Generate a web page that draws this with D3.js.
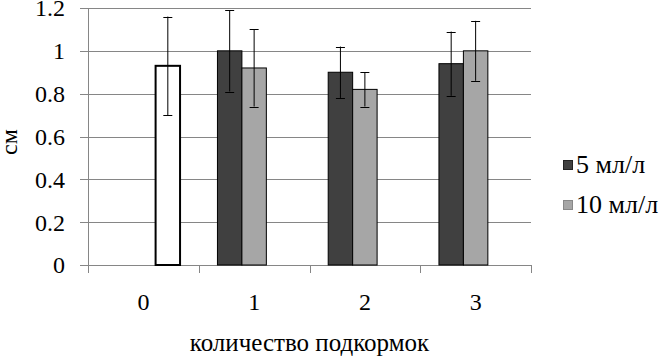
<!DOCTYPE html>
<html><head><meta charset="utf-8">
<script src="https://cdn.jsdelivr.net/npm/d3@7"></script>
<style>body{margin:0;background:#fff}svg{display:block}</style>
</head><body>
<svg id="c" width="663" height="358"></svg>
<script>
const categories = ["0", "1", "2", "3"];
const seriesNames = ["5 мл/л", "10 мл/л", "контроль"];
const values5 = [null, 1.00, 0.90, 0.94];
const values10 = [null, 0.92, 0.82, 1.00];
const valuesCtrl = [0.93, null, null, null];
const err5 = [null, 0.19, 0.12, 0.15];
const err10 = [null, 0.18, 0.08, 0.14];
const errCtrl = [0.23, null, null, null];
const yTicks = [0, 0.2, 0.4, 0.6, 0.8, 1.0, 1.2];
const yTickLabels = ["0", "0.2", "0.4", "0.6", "0.8", "1", "1.2"];
const xTitle = "количество подкормок";
const yTitle = "см";

const svg = d3.select("#c");
const font = "'Liberation Serif','Times New Roman',serif";
const L = 88, R = 531, T = 8, B = 265;
const grid = "#868686";
const fs = 24;

const x = d3.scaleBand().domain(categories).range([L, R]).paddingInner(0).paddingOuter(0);
const xs = d3.scaleBand().domain([0, 1, 2]).range([0, x.bandwidth()]).paddingInner(0).paddingOuter(0.765);
const y = d3.scaleLinear().domain([0, 1.2]).range([B, T]);

// gridlines + y axis
const yAxis = d3.axisLeft(y).tickValues(yTicks).tickSize(-(R - L)).tickSizeOuter(0)
  .tickFormat((d, i) => yTickLabels[i]).tickPadding(0);
const gy = svg.append("g").attr("transform", `translate(${L},0)`).call(yAxis);
gy.select(".domain").remove();
gy.selectAll(".tick line").attr("stroke", grid).attr("x1", -8).attr("shape-rendering", "crispEdges");
gy.selectAll(".tick text").attr("x", -23).attr("dy", "0.33em")
  .attr("font-family", font).attr("font-size", fs).attr("fill", "#000");
svg.append("line").attr("x1", L + 0.5).attr("x2", L + 0.5).attr("y1", T).attr("y2", B)
  .attr("stroke", grid);

// x axis
svg.append("line").attr("x1", L).attr("x2", R).attr("y1", B + 0.5).attr("y2", B + 0.5).attr("stroke", grid);
const bounds = categories.map(c => x(c)).concat([R]);
svg.selectAll(".xt").data(bounds).enter().append("line")
  .attr("x1", d => Math.round(d) + 0.5).attr("x2", d => Math.round(d) + 0.5)
  .attr("y1", B).attr("y2", B + 8).attr("stroke", grid);
svg.selectAll(".xl").data(categories).enter().append("text")
  .attr("x", d => x(d) + x.bandwidth() / 2).attr("y", 310)
  .attr("text-anchor", "middle").attr("font-family", font).attr("font-size", fs).text(d => d);

// bars
const series = [
  {vals: values5, errs: err5, fill: "#404040", stroke: "#000", sw: 1},
  {vals: values10, errs: err10, fill: "#a6a6a6", stroke: "#000", sw: 1},
  {vals: valuesCtrl, errs: errCtrl, fill: "#ffffff", stroke: "#000", sw: 2}
];
series.forEach((s, si) => {
  const data = categories.map((c, i) => ({c, v: s.vals[i], e: s.errs[i]})).filter(d => d.v != null);
  svg.selectAll(null).data(data).enter().append("rect")
    .attr("x", d => x(d.c) + xs(si)).attr("width", xs.bandwidth())
    .attr("y", d => y(d.v)).attr("height", d => y(0) - y(d.v))
    .attr("fill", s.fill).attr("stroke", s.stroke).attr("stroke-width", s.sw);
  data.forEach(d => {
    const cx = x(d.c) + xs(si) + xs.bandwidth() / 2;
    const g = svg.append("g").attr("stroke", "#000").attr("stroke-width", 1);
    g.append("line").attr("x1", cx).attr("x2", cx).attr("y1", y(d.v + d.e)).attr("y2", y(d.v - d.e));
    [d.v + d.e, d.v - d.e].forEach(v => {
      g.append("line").attr("x1", cx - 4.5).attr("x2", cx + 4.5)
        .attr("y1", Math.round(y(v)) + 0.5).attr("y2", Math.round(y(v)) + 0.5);
    });
  });
});

// legend (two entries)
const legendY = [165, 205];
[0, 1].forEach(i => {
  svg.append("rect").attr("x", 563.5).attr("y", legendY[i] - 4.5).attr("width", 9).attr("height", 9)
    .attr("fill", series[i].fill).attr("stroke", i === 0 ? "#222" : "#888").attr("stroke-width", 1);
  svg.append("text").attr("x", 576).attr("y", legendY[i] + 8)
    .attr("font-family", font).attr("font-size", 26).text(seriesNames[i]);
});

// titles
svg.append("text").attr("x", (L + R) / 2).attr("y", 351).attr("text-anchor", "middle")
  .attr("font-family", font).attr("font-size", 25).text(xTitle);
svg.append("text").attr("transform", `translate(17,142) rotate(-90)`)
  .attr("text-anchor", "middle").attr("font-family", font).attr("font-size", fs).text(yTitle);
</script>
</body></html>
